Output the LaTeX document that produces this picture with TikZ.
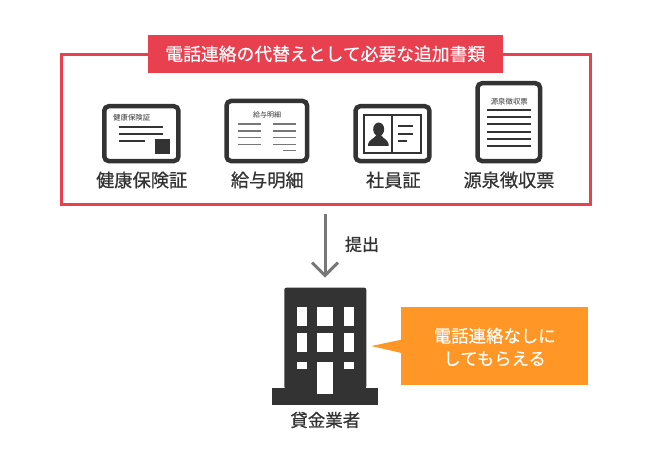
\documentclass[tikz,border=0pt]{standalone}
\usepackage{fontspec}
\setmainfont{Noto Sans CJK JP}[FakeBold=0.35]
\newfontfamily\jplight{Noto Sans CJK JP}
\newfontfamily\jpheavy{Noto Sans CJK JP}[FakeBold=0.7]
\usetikzlibrary{arrows.meta}
\definecolor{framered}{HTML}{E94050}
\definecolor{calloutorange}{HTML}{FF9626}
\definecolor{icondark}{HTML}{333333}
\definecolor{arrowgray}{HTML}{777777}
\tikzset{
  jplabel/.style={text=icondark,inner sep=0pt,font=\jpheavy\fontsize{18.2}{22}\selectfont},
  jptiny/.style={text=icondark,inner sep=0pt,font=\jplight\fontsize{7.4}{9}\selectfont},
  cardframe/.style={draw=icondark,line width=4.5pt,rounded corners=4.5pt,fill=white},
  rule/.style={draw=icondark,line width=2pt},
  thinrule/.style={draw=arrowgray,line width=1.5pt},
  window/.style={fill=white,draw=none},
}
\begin{document}
\begin{tikzpicture}[x=1pt,y=-1pt]
\useasboundingbox (0,0) rectangle (650,470);
% outer frame and title
\node[draw=framered,line width=3pt,minimum width=528.7pt,minimum height=150.3pt,inner sep=0pt,outer sep=0pt] (frame) at (325.65,129.85) {};
\node[fill=framered,minimum width=355.3pt,minimum height=37.7pt,inner sep=0pt,text=white,font=\fontsize{17.8}{21}\selectfont] (title) at (325.3,53.85) {電話連絡の代替えとして必要な追加書類};
% health card
\draw[cardframe] (104.25,106.25) rectangle (178.45,161.05);
\node[jptiny] (healthsmall) at (131.7,117.7) {健康保険証};
\foreach \yy/\xx in {126.7/163.3,134/163.3,141.3/145.3}
  \draw[rule] (118.7,\yy) -- (\xx,\yy);
\fill[icondark] (155,139) rectangle (170,154);
\node[jplabel] (health) at (141.7,180) {健康保険証};
% pay slip
\draw[cardframe] (226.55,100.95) rectangle (307.05,161.05);
\node[jptiny,font=\jplight\fontsize{7}{9}\selectfont] (paysmall) at (267,114.7) {給与明細};
\foreach \yy in {124,131,137.7,144.7} {
  \draw[thinrule] (238.3,\yy) -- (260.7,\yy);
  \draw[thinrule] (273.3,\yy) -- (295.7,\yy);
}
\draw[thinrule] (283.3,150.7) -- (295.7,150.7);
\node[jplabel] (pay) at (267.3,180) {給与明細};
% employee id
\draw[cardframe] (355.55,106.25) rectangle (429.45,161.05);
\draw[icondark,line width=2pt] (364.3,115.3) rectangle (421.3,152.7);
\draw[icondark,line width=1.5pt] (392,115.3) -- (392,152.7);
\fill[icondark] (378.7,129.3) ellipse (5.5 and 6.8);
\fill[icondark] (368,146) .. controls (368,139) and (374,139.5) .. (376.5,135) -- (381,135) .. controls (383.5,139.5) and (388.7,139) .. (388.7,146) -- cycle;
\foreach \yy/\xx in {126.3/413.3,133.7/413.3,141/407.3}
  \draw[rule] (398,\yy) -- (\xx,\yy);
\node[jplabel] (staff) at (393.3,180) {社員証};
% withholding slip
\draw[cardframe] (477.55,83.25) rectangle (540.05,161.05);
\node[jptiny] (slipsmall) at (509.3,101.7) {源泉徴収票};
\foreach \yy in {110.3,117.3,124.3,131.7,138.7,146}
  \draw[rule] (487.3,\yy) -- (531,\yy);
\node[jplabel] (slip) at (509,180) {源泉徴収票};
% arrow to the lender
\coordinate (arrowfrom) at (325,214.3);
\coordinate (arrowto) at (325,277.7);
\draw[arrowgray,line width=3pt,-{Straight Barb[length=13pt,width=26pt,line width=3pt]}] (arrowfrom) -- (arrowto);
\node[jplabel,font=\jpheavy\fontsize{17}{20}\selectfont] (submit) at (362,244.3) {提出};
% building
\fill[icondark,rounded corners=2pt] (284.3,388.5) -- (284.3,287.7) -- (366.3,287.7) -- (366.3,388.5) -- cycle;
\fill[icondark] (272.3,388) rectangle (378.3,404.7);
\foreach \yy in {307.3,333.3} {
  \fill[window] (297,\yy) rectangle (306.7,\yy+18.4);
  \fill[window] (317.3,\yy) rectangle (333,\yy+18.4);
  \fill[window] (344,\yy) rectangle (353.7,\yy+18.4);
}
\fill[window] (297,362) rectangle (306.7,369.3);
\fill[window] (344,362) rectangle (353.7,369.3);
\fill[window] (317.3,362) rectangle (333,394.3);
\node[jplabel,font=\jpheavy\fontsize{17.5}{21}\selectfont] (lender) at (325.3,420) {貸金業者};
% callout
\fill[calloutorange] (401,307.3) rectangle (587.7,385.3);
\fill[calloutorange] (401.5,339.7) -- (371.3,346) -- (401.5,353) -- cycle;
\node[text=white,inner sep=0pt,align=center,font=\fontsize{17.4}{22.7}\selectfont] (note) at (494.7,347) {電話連絡なしに\\してもらえる};
\end{tikzpicture}
\end{document}
